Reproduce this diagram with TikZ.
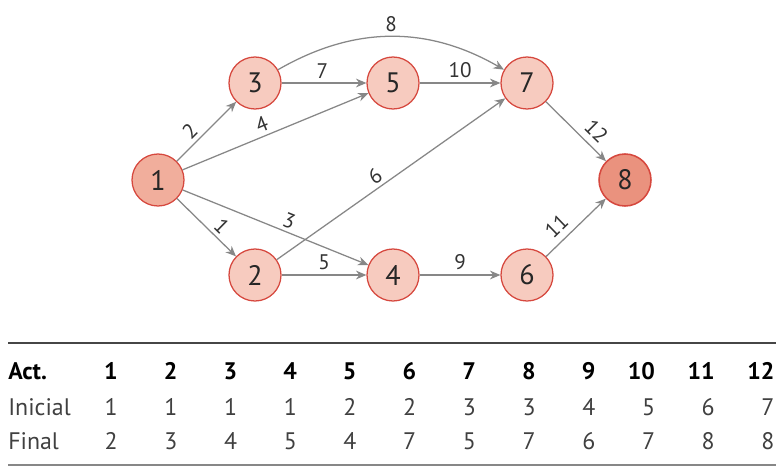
\documentclass[tikz,border=0pt]{standalone}
\usepackage{fontspec}
\setmainfont{PT Sans}
\usetikzlibrary{arrows.meta}
\definecolor{evfill}{RGB}{247,203,191}
\definecolor{evline}{RGB}{214,72,62}
\definecolor{startfill}{RGB}{241,174,156}
\definecolor{endfill}{RGB}{234,146,126}
\definecolor{actgray}{RGB}{135,135,135}
\definecolor{rulegray}{RGB}{70,70,70}
\tikzset{
	event/.style={circle, draw=evline, fill=evfill, line width=0.9pt, minimum size=1.3cm, inner sep=0pt, text=black!85, font=\fontsize{20}{22}\selectfont},
	startevent/.style={event, fill=startfill},
	endevent/.style={event, fill=endfill, line width=1.1pt},
	act/.style={draw=actgray, line width=0.9pt, -{Stealth[length=2.6mm, width=2.2mm]}},
	actlabel/.style={font=\fontsize{15}{16}\selectfont, text=black!80, sloped, above, inner sep=2.5pt},
	tabtext/.style={font=\fontsize{17}{18}\selectfont, text=black!75, inner sep=0pt},
	tabhead/.style={font=\fontsize{17}{18}\selectfont\bfseries, text=black, inner sep=0pt}
}
\newcommand{\tabcol}[4]{
	\node[tabhead, anchor=base east] (h#1) at (#2,379) {#1};
	\node[tabtext, anchor=base east] (i#1) at (#2,415) {#3};
	\node[tabtext, anchor=base east] (f#1) at (#2,449) {#4};
}
\begin{document}
\begin{tikzpicture}[x=0.025cm, y=-0.025cm]
	\useasboundingbox (0,0) rectangle (780,466);
	\node[startevent] (n1) at (158,180) {1};
	\node[event] (n2) at (255,275) {2};
	\node[event] (n3) at (255,83) {3};
	\node[event] (n4) at (393,275) {4};
	\node[event] (n5) at (393,83) {5};
	\node[event] (n6) at (527,275) {6};
	\node[event] (n7) at (527,83) {7};
	\node[endevent] (n8) at (625,180) {8};
	
	\foreach \a/\b/\l/\p/\s in {1/2/1/0.62/2.5pt, 1/3/2/0.36/2.5pt, 1/4/3/0.55/2.5pt, 1/5/4/0.45/2.5pt,
		2/4/5/0.5/3pt, 2/7/6/0.46/2.5pt, 3/5/7/0.48/3pt, 4/6/9/0.5/3pt, 5/7/10/0.5/3pt,
		6/8/11/0.34/4.5pt, 7/8/12/0.67/4.5pt} {
		\draw[act] (n\a) -- node[actlabel, pos=\p, inner sep=\s] {\l} (n\b);
	}
	\draw[act] (n3) to[bend left=30] node[actlabel, inner sep=3pt] {8} (n7);
	
	% table
	\coordinate (tl) at (8,343);
	\coordinate (tr) at (776,343);
	\coordinate (bl) at (8,465);
	\coordinate (br) at (776,465);
	\draw[rulegray, line width=1.4pt] (tl) -- (tr);
	\draw[actgray, line width=0.9pt] (bl) -- (br);
	\node[tabhead, anchor=base west] (hact) at (8,379) {Act.};
	\node[tabtext, anchor=base west] (hini) at (8,415) {Inicial};
	\node[tabtext, anchor=base west] (hfin) at (8,449) {Final};
	\foreach \s/\t [count=\i] in {1/2,1/3,1/4,1/5,2/4,2/7,3/5,3/7,4/6,5/7,6/8,7/8} {
		\pgfmathsetmacro{\cx}{118+59.7*(\i-1)}
		\tabcol{\i}{\cx}{\s}{\t}
	}
\end{tikzpicture}
\end{document}
